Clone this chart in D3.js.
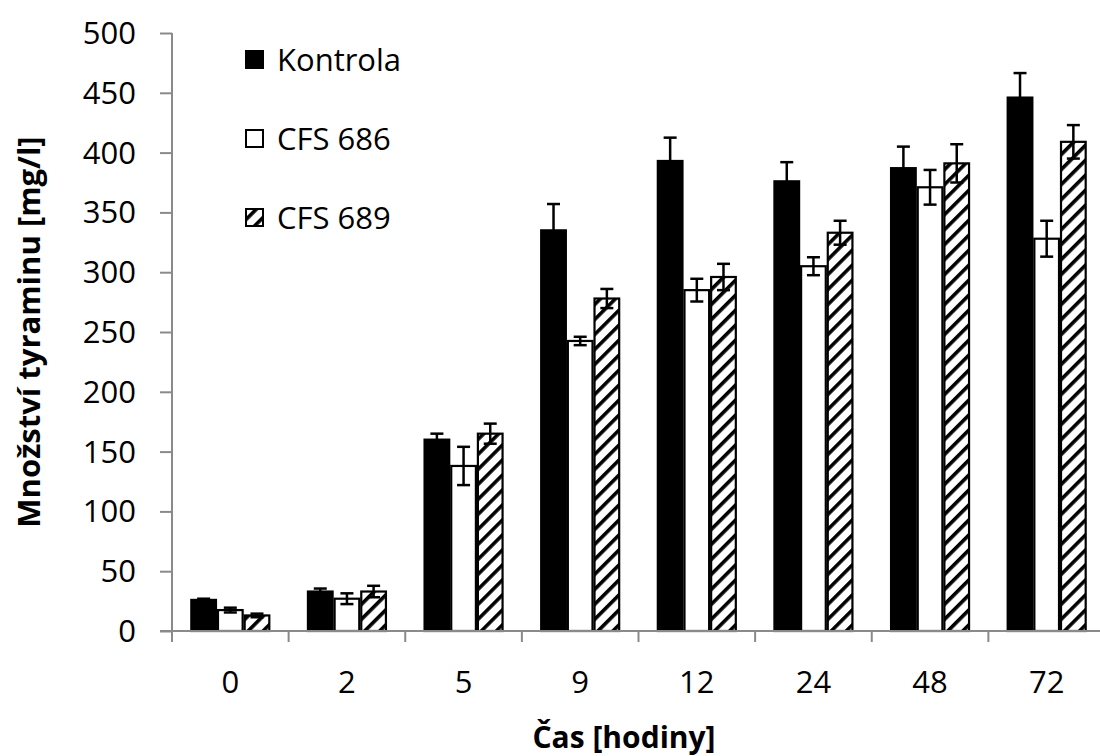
<!DOCTYPE html>
<html>
<head>
<meta charset="utf-8">
<script src="https://cdn.jsdelivr.net/npm/d3@7"></script>
<style>
  html, body { margin: 0; padding: 0; background: #fff; }
  svg text { font-family: "Open Sans", "DejaVu Sans", sans-serif; fill: #000; }
</style>
</head>
<body>
<svg id="chart"></svg>
<script>
const hours = ['0', '2', '5', '9', '12', '24', '48', '72'];
const seriesNames = ['Kontrola', 'CFS 686', 'CFS 689'];

// mean values per series (mg/l)
const kontrola = [26, 33, 160, 335, 393, 376, 387, 446];
const cfs686 = [17.5, 27, 138, 242.5, 285, 305, 371, 328];
const cfs689 = [13, 33, 165, 278, 296, 333, 391, 409];

// error bar sizes (+/-)
const kontrolaErr = [1, 2.5, 5, 22, 19.5, 16, 18, 20.5];
const cfs686Err = [2, 4.5, 16, 3.5, 9.5, 7.5, 14.5, 15];
const cfs689Err = [1.5, 4.8, 8.4, 8, 11, 10, 16, 14];

const yTicks = [0, 50, 100, 150, 200, 250, 300, 350, 400, 450, 500];

const width = 1100, height = 756;
const svg = d3.select('#chart').attr('width', width).attr('height', height);

const defs = svg.append('defs');
const hatch = defs.append('pattern')
    .attr('id', 'hatch')
    .attr('patternUnits', 'userSpaceOnUse')
    .attr('width', 10.6)
    .attr('height', 10.6)
    .attr('patternTransform', 'rotate(45)');
hatch.append('rect').attr('width', 10.6).attr('height', 10.6).attr('fill', '#fff');
hatch.append('rect').attr('width', 3.6).attr('height', 10.6).attr('fill', '#000');

const styles = [
    { fill: '#000', stroke: '#000' },
    { fill: '#fff', stroke: '#000' },
    { fill: 'url(#hatch)', stroke: '#000' }
];

const values = [kontrola, cfs686, cfs689];
const errors = [kontrolaErr, cfs686Err, cfs689Err];

const x0 = d3.scaleBand().domain(hours).range([172, 1105]);
const y = d3.scaleLinear().domain([0, 500]).range([631, 33]);
const half = 40;
const x1 = d3.scaleBand().domain(seriesNames)
    .range([x0.bandwidth() / 2 - half, x0.bandwidth() / 2 + half]);

const rows = hours.map((h, i) => seriesNames.map((s, k) => ({
    hour: h, series: s, k: k, value: values[k][i], err: errors[k][i]
})));

// bars
const groups = svg.append('g').selectAll('g.group')
    .data(rows)
    .join('g')
    .attr('class', 'group')
    .attr('transform', (d, i) => `translate(${x0(hours[i])},0)`);

groups.selectAll('rect.bar')
    .data(d => d)
    .join('rect')
    .attr('class', 'bar')
    .attr('x', d => x1(d.series) + 1)
    .attr('width', x1.bandwidth() - 2)
    .attr('y', d => y(d.value))
    .attr('height', d => y(0) - y(d.value))
    .attr('fill', d => styles[d.k].fill)
    .attr('stroke', d => styles[d.k].stroke)
    .attr('stroke-width', 2.2);

// error bars
const eb = groups.selectAll('g.err')
    .data(d => d)
    .join('g')
    .attr('class', 'err')
    .attr('stroke', '#000')
    .attr('stroke-width', 2.5);

const cx = d => x1(d.series) + x1.bandwidth() / 2;
eb.append('line')
    .attr('x1', cx).attr('x2', cx)
    .attr('y1', d => y(d.value + d.err))
    .attr('y2', d => y(d.value - d.err));
eb.append('line')
    .attr('x1', d => cx(d) - 6.5).attr('x2', d => cx(d) + 6.5)
    .attr('y1', d => y(d.value + d.err)).attr('y2', d => y(d.value + d.err));
eb.append('line')
    .attr('x1', d => cx(d) - 6.5).attr('x2', d => cx(d) + 6.5)
    .attr('y1', d => y(d.value - d.err)).attr('y2', d => y(d.value - d.err));

// y axis
const yAxis = svg.append('g')
    .attr('transform', 'translate(172,0)')
    .call(d3.axisLeft(y).tickValues(yTicks).tickSize(12).tickPadding(24).tickSizeOuter(0));
yAxis.select('.domain').attr('stroke', '#8a8a8a').attr('stroke-width', 2)
    .attr('d', `M0,${y(500)}V${y(0) + 11}`);
yAxis.selectAll('.tick line').attr('stroke', '#8a8a8a').attr('stroke-width', 2);
yAxis.selectAll('.tick text').style('font-size', '31px').attr('dy', '0.34em');

// x axis
const xAxis = svg.append('g')
    .attr('transform', `translate(0,${y(0)})`)
    .call(d3.axisBottom(x0).tickSize(0).tickPadding(40));
xAxis.select('.domain').attr('stroke', '#8a8a8a').attr('stroke-width', 2)
    .attr('d', `M160,0H1105`);
xAxis.selectAll('.tick text').style('font-size', '31px');
xAxis.selectAll('line.sep')
    .data(hours.slice(1))
    .join('line')
    .attr('class', 'sep')
    .attr('x1', d => x0(d)).attr('x2', d => x0(d))
    .attr('y1', 0).attr('y2', 11)
    .attr('stroke', '#8a8a8a').attr('stroke-width', 2);

// axis titles
svg.append('text')
    .attr('transform', `translate(40,${(y(0) + y(500)) / 2}) rotate(-90)`)
    .attr('text-anchor', 'middle')
    .style('font-size', '31px')
    .style('font-weight', 'bold')
    .text('Množství tyraminu [mg/l]');

svg.append('text')
    .attr('x', 624)
    .attr('y', 748)
    .attr('text-anchor', 'middle')
    .style('font-size', '30px')
    .style('font-weight', 'bold')
    .text('Čas [hodiny]');

// legend
const legend = svg.append('g').selectAll('g.leg')
    .data(seriesNames)
    .join('g')
    .attr('class', 'leg')
    .attr('transform', (d, i) => `translate(245,${60 + i * 79})`);
legend.append('rect')
    .attr('x', 1).attr('y', -9)
    .attr('width', 17).attr('height', 17)
    .attr('fill', (d, i) => styles[i].fill)
    .attr('stroke', '#000')
    .attr('stroke-width', 2);
legend.append('text')
    .attr('x', 32)
    .attr('dy', '0.35em')
    .style('font-size', '31px')
    .text(d => d);
</script>
</body>
</html>
